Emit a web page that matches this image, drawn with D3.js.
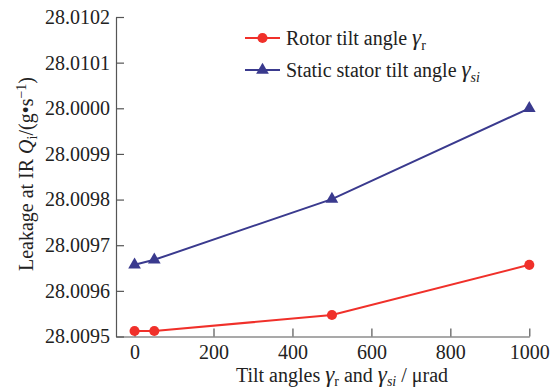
<!DOCTYPE html>
<html>
<head>
<meta charset="utf-8">
<script src="https://cdn.jsdelivr.net/npm/d3@7"></script>
<style>
  body { margin: 0; background: #fff; }
  svg, svg text, svg tspan { font-family: "Liberation Serif", "Times New Roman", serif !important; }
  text { fill: #222; }
  .axis path, .axis line { stroke: #555; stroke-width: 1.2; }
</style>
</head>
<body>
<svg class="one"></svg>
<script>
// values
var tiltAngles = [0, 50, 500, 1000];
var rotorLeak = [28.009512, 28.009512, 28.009547, 28.009657];
var statorLeak = [28.009657, 28.009668, 28.009801, 28.010000];

var xTicks = [0, 200, 400, 600, 800, 1000];
var yTicks = [28.0095, 28.0096, 28.0097, 28.0098, 28.0099, 28.0100, 28.0101, 28.0102];
// the source figure prints 28.0000 instead of 28.0100
var yTickLabels = ['28.0095', '28.0096', '28.0097', '28.0098', '28.0099', '28.0000', '28.0101', '28.0102'];

var serif = '"Liberation Serif", "Times New Roman", serif';

var svgwidth = 550;
var svgheight = 392;

var svg = d3.select('.one')
            .attr('width', svgwidth)
            .attr('height', svgheight)
            .style('font-family', serif);

var xScale = d3.scaleLinear()
               .domain([-47, 1000])
               .range([116, 529.3]);

var yScale = d3.scaleLinear()
               .domain([28.0095, 28.0102])
               .range([336.5, 17]);

var xAxis = d3.axisBottom(xScale)
              .tickValues(xTicks)
              .tickSizeInner(-8)
              .tickSizeOuter(0)
              .tickPadding(8)
              .tickFormat(d3.format('d'));

var gx = svg.append('g').classed('axis', true)
   .attr('transform', 'translate(0,' + yScale.range()[0] + ')')
   .call(xAxis);
gx.attr('font-family', null).attr('font-size', null);
gx.selectAll('text')
   .style('font-size', '20px')
   .style('fill', '#222');

var yAxis = d3.axisLeft(yScale)
              .tickValues(yTicks)
              .tickSizeInner(-8)
              .tickSizeOuter(0)
              .tickPadding(6)
              .tickFormat(function(d, i){ return yTickLabels[i]; });

var gy = svg.append('g').classed('axis', true)
   .attr('transform', 'translate(' + xScale.range()[0] + ',0)')
   .call(yAxis);
gy.attr('font-family', null).attr('font-size', null);
gy.selectAll('text')
   .style('font-size', '20px')
   .style('fill', '#222');

svg.selectAll('.axis .domain').attr('fill', 'none');

var series = [
  {name: 'rotor', values: rotorLeak, color: '#f0302a', shape: d3.symbolCircle, size: 80},
  {name: 'stator', values: statorLeak, color: '#3a3a8e', shape: d3.symbolTriangle, size: 70}
];

var linemake = d3.line()
                 .x(function(d){ return xScale(d.x); })
                 .y(function(d){ return yScale(d.y); });

series.forEach(function(s){
  var pts = tiltAngles.map(function(a, i){ return {x: a, y: s.values[i]}; });

  svg.append('path')
     .datum(pts)
     .attr('fill', 'none')
     .attr('stroke', s.color)
     .attr('stroke-width', 2)
     .attr('d', linemake);

  svg.selectAll('.pt-' + s.name).data(pts).enter()
     .append('path')
     .attr('class', 'pt-' + s.name)
     .attr('d', d3.symbol().type(s.shape).size(s.size))
     .attr('fill', s.color)
     .attr('transform', function(d){
       return 'translate(' + xScale(d.x) + ',' + yScale(d.y) + ')';
     });
});

// legend
var legendRows = [
  {y: 38, color: series[0].color, shape: series[0].shape, size: series[0].size, label: 'Rotor tilt angle ', sub: 'r', subItalic: false},
  {y: 70, color: series[1].color, shape: series[1].shape, size: series[1].size, label: 'Static stator tilt angle ', sub: 'si', subItalic: true}
];

legendRows.forEach(function(r){
  var g = svg.append('g').attr('transform', 'translate(0,' + r.y + ')');
  g.append('line')
   .attr('x1', 245).attr('x2', 280)
   .attr('stroke', r.color).attr('stroke-width', 2);
  g.append('path')
   .attr('d', d3.symbol().type(r.shape).size(r.size))
   .attr('fill', r.color)
   .attr('transform', 'translate(262.5,0)');
  var t = g.append('text')
           .attr('x', 286)
           .attr('dy', '0.35em')
           .style('font-size', '20px');
  t.append('tspan').text(r.label);
  t.append('tspan').style('font-style', 'italic').style('font-size', '23px').text('γ');
  t.append('tspan')
   .attr('dy', 5)
   .style('font-size', '14px')
   .style('font-style', r.subItalic ? 'italic' : 'normal')
   .text(r.sub);
});

// x title
var xt = svg.append('text')
            .attr('x', 342)
            .attr('y', 382)
            .attr('text-anchor', 'middle')
            .style('font-size', '20px');
xt.append('tspan').text('Tilt angles  ');
xt.append('tspan').style('font-style', 'italic').style('font-size', '23px').text('γ');
xt.append('tspan').attr('dy', 4).style('font-size', '14px').text('r');
xt.append('tspan').attr('dy', -4).text(' and ');
xt.append('tspan').style('font-style', 'italic').style('font-size', '23px').text('γ');
xt.append('tspan').attr('dy', 4).style('font-size', '14px').style('font-style', 'italic').text('si');
xt.append('tspan').attr('dy', -4).text(' / μrad');

// y title
var yt = svg.append('text')
            .attr('transform', 'translate(33,174) rotate(-90)')
            .attr('text-anchor', 'middle')
            .style('font-size', '20px');
yt.append('tspan').text('Leakage at IR ');
yt.append('tspan').style('font-style', 'italic').text('Q');
yt.append('tspan').attr('dy', 4).style('font-size', '14px').text('i');
yt.append('tspan').attr('dy', -4).text('/(g•s');
yt.append('tspan').attr('dy', -7).style('font-size', '14px').text('−1');
yt.append('tspan').attr('dy', 7).text(')');
</script>
</body>
</html>
